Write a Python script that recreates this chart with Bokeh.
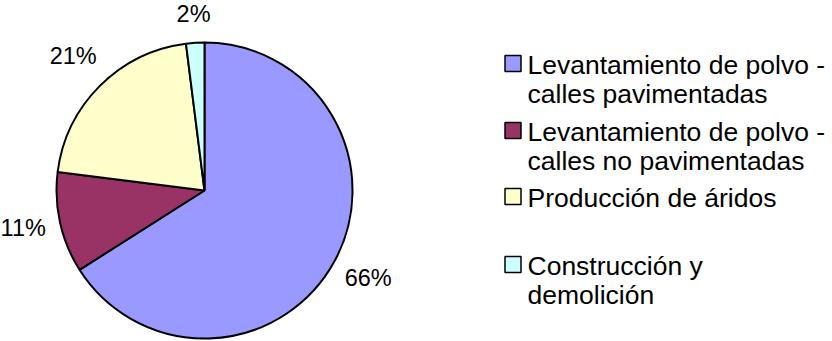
import math
from bokeh.plotting import figure
from bokeh.models import Range1d, ColumnDataSource
from bokeh.core.properties import value
from bokeh.embed import file_html
from bokeh.resources import INLINE

# ---- data ----
categories = [
    "Levantamiento de polvo -\ncalles pavimentadas",
    "Levantamiento de polvo -\ncalles no pavimentadas",
    "Producción de áridos",
    "Construcción y\ndemolición",
]
shares = [66, 11, 21, 2]
colors = ["#9999FF", "#993366", "#FFFFCC", "#CCFFFF"]

# ---- figure (1 data unit = 1 px) ----
W, H = 832, 341
p = figure(width=W, height=H, output_backend="svg", toolbar_location=None,
           x_range=Range1d(0, W), y_range=Range1d(0, H), min_border=0)
p.axis.visible = False
p.grid.visible = False
p.outline_line_color = None
p.background_fill_color = "white"
p.border_fill_color = "white"


def sy(y):
    return H - y


FONT = value("Liberation Sans")

# ---- pie ----
cx, cy, R = 204, sy(190), 148
total = sum(shares)
start, end = [], []
acc = 0
for v in shares:
    start.append(math.pi / 2 - 2 * math.pi * acc / total)
    acc += v
    end.append(math.pi / 2 - 2 * math.pi * acc / total)
src = ColumnDataSource(dict(start=start, end=end, color=colors))
p.wedge(x=cx, y=cy, radius=R, start_angle="start", end_angle="end",
        direction="clock", fill_color="color", line_color="black",
        line_width=2, source=src)

# ---- percentage labels ----
fs_lab = 23.5
lab_txt = [f"{v}%" for v in shares]
lx, ly = [], []
for s, e, t in zip(start, end, lab_txt):
    m = (s + e) / 2
    w = fs_lab * (0.556 * (len(t) - 1) + 0.889)
    h = fs_lab * 1.1
    r = R + 12 + w / 2 * abs(math.cos(m)) + h / 2 * abs(math.sin(m))
    lx.append(cx + r * math.cos(m))
    ly.append(cy + r * math.sin(m) + 3)
p.text(x=lx, y=ly, text=lab_txt, text_align="center", text_baseline="middle",
       text_font=FONT, text_font_size=f"{fs_lab}px", text_color="black")

# ---- legend ----
sq_x, text_x = 512.5, 527
baselines = [72, 139, 205, 273]
line_gap = 29
p.rect(x=[sq_x] * len(colors), y=[sy(b - 9) for b in baselines],
       width=16, height=16, fill_color=colors, line_color="black",
       line_width=1.5)
tx, ty, tt = [], [], []
for b, lab in zip(baselines, categories):
    for k, line in enumerate(lab.split("\n")):
        tx.append(text_x)
        ty.append(sy(b - 8 + k * line_gap))
        tt.append(line)
p.text(x=tx, y=ty, text=tt, text_align="left", text_baseline="alphabetic",
       text_font=FONT, text_font_size="26.5px", text_color="black")

open("out.html", "w").write(file_html(p, INLINE))
